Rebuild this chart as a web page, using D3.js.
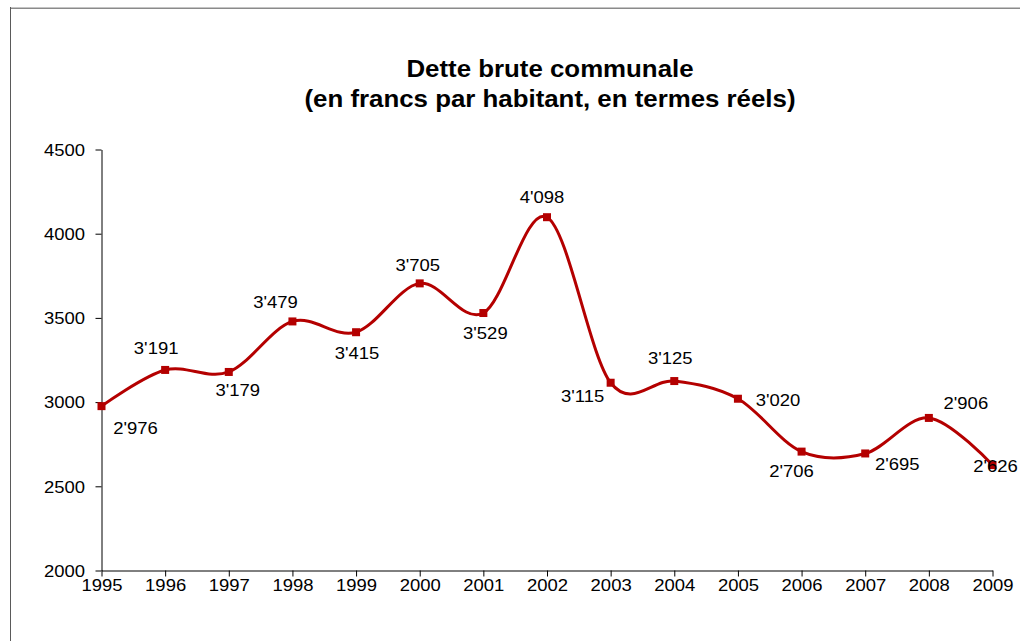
<!DOCTYPE html>
<html>
<head>
<meta charset="utf-8">
<script src="https://cdn.jsdelivr.net/npm/d3@7"></script>
<style>
  html, body { margin: 0; padding: 0; background: #fff; }
  svg { display: block; font-family: "Liberation Sans", Arial, sans-serif; }
</style>
</head>
<body>
<svg id="chart" width="1020" height="641"></svg>
<script>
// ---- data ----
const years = [1995, 1996, 1997, 1998, 1999, 2000, 2001, 2002, 2003, 2004, 2005, 2006, 2007, 2008, 2009];
const debt = [2976, 3191, 3179, 3479, 3415, 3705, 3529, 4098, 3115, 3125, 3020, 2706, 2695, 2906, 2626];
const yTicks = [2000, 2500, 3000, 3500, 4000, 4500];
const titleLines = ["Dette brute communale", "(en francs par habitant, en termes réels)"];

// ---- layout (label placement relative to each point, px) ----
const labelOffsets = [
  [34, 22], [-9, -22], [9, 18], [-17, -19], [1, 21], [-2, -18], [2, 20], [-5, -20],
  [-28, 13], [-4, -23], [40, 1], [-10, 20], [32, 11], [37, -15], [3, 1]
];

const W = 1020, H = 641;
const stretch = 1.1;
const red = "#b40000";
const svg = d3.select("#chart");

// outer chart border
svg.append("line").attr("x1", 10).attr("x2", W).attr("y1", 7.5).attr("y2", 7.5)
  .attr("stroke", "#c4c4c4").attr("stroke-width", 1);
svg.append("line").attr("x1", 10).attr("x2", W).attr("y1", 8.5).attr("y2", 8.5)
  .attr("stroke", "#8a8a8a").attr("stroke-width", 1);
svg.append("line").attr("x1", 10.5).attr("x2", 10.5).attr("y1", 7).attr("y2", H)
  .attr("stroke", "#5a5a5a").attr("stroke-width", 1);

const x = d3.scaleLinear().domain([years[0], years[years.length - 1]]).range([101.5, 992.5]);
const y = d3.scaleLinear().domain([yTicks[0], yTicks[yTicks.length - 1]]).range([570.5, 149.5]);

const fmt = d3.formatLocale({ decimal: ".", thousands: "'", grouping: [3], currency: ["", ""] }).format(",d");

// title
const titleG = svg.append("g");
titleLines.forEach((t, i) => {
  titleG.append("g").attr("transform", `translate(550,${77 + i * 30}) scale(${stretch},1)`)
    .append("text").attr("text-anchor", "middle")
    .attr("font-size", "23.5px").attr("font-weight", "bold").attr("fill", "#000").text(t);
});

// y axis
const yAxis = svg.append("g").attr("transform", "translate(101.5,0)")
  .call(d3.axisLeft(y).tickValues(yTicks).tickSize(6).tickSizeOuter(0).tickFormat(d3.format("d")));
yAxis.selectAll("text").attr("font-size", "16.8px").attr("font-family", "Liberation Sans, Arial, sans-serif")
  .attr("fill", "#000").attr("x", -16.5 / stretch).attr("dy", "0.35em")
  .attr("transform", `scale(${stretch},1)`);
yAxis.selectAll("line").attr("stroke", "#000");
yAxis.select(".domain").attr("stroke", "#000");

// x axis
const xAxis = svg.append("g").attr("transform", "translate(0,570.5)")
  .call(d3.axisBottom(x).tickValues(years).tickSize(6).tickSizeOuter(0).tickFormat(d3.format("d")));
xAxis.selectAll("text").attr("font-size", "16.8px").attr("font-family", "Liberation Sans, Arial, sans-serif")
  .attr("fill", "#000").attr("y", 9).attr("dy", "0.71em")
  .attr("transform", `scale(${stretch},1)`)
  .attr("x", 0);
// keep x labels centred on ticks despite horizontal stretch
xAxis.selectAll(".tick text").attr("transform", null)
  .each(function () {
    const t = d3.select(this);
    const parent = d3.select(this.parentNode);
    t.attr("transform", `scale(${stretch},1)`);
  });
xAxis.selectAll("line").attr("stroke", "#000");
xAxis.select(".domain").attr("stroke", "#000");

// line
const pts = years.map((yr, i) => [x(yr), y(debt[i])]);
const line = d3.line().curve(d3.curveCardinal.tension(0));
svg.append("path").attr("d", line(pts)).attr("fill", "none")
  .attr("stroke", red).attr("stroke-width", 3).attr("stroke-linejoin", "round");

// markers
svg.append("g").selectAll("rect").data(years).join("rect")
  .attr("x", (d, i) => x(d) - 4).attr("y", (d, i) => y(debt[i]) - 4)
  .attr("width", 8).attr("height", 8).attr("fill", red);

// data labels
svg.append("g").selectAll("g").data(years).join("g")
  .attr("transform", (d, i) => `translate(${x(d) + labelOffsets[i][0]},${y(debt[i]) + labelOffsets[i][1]}) scale(${stretch},1)`)
  .append("text").attr("text-anchor", "middle").attr("dy", "0.35em")
  .attr("font-size", "16.8px").attr("fill", "#000")
  .text((d, i) => fmt(debt[i]));
</script>
</body>
</html>
